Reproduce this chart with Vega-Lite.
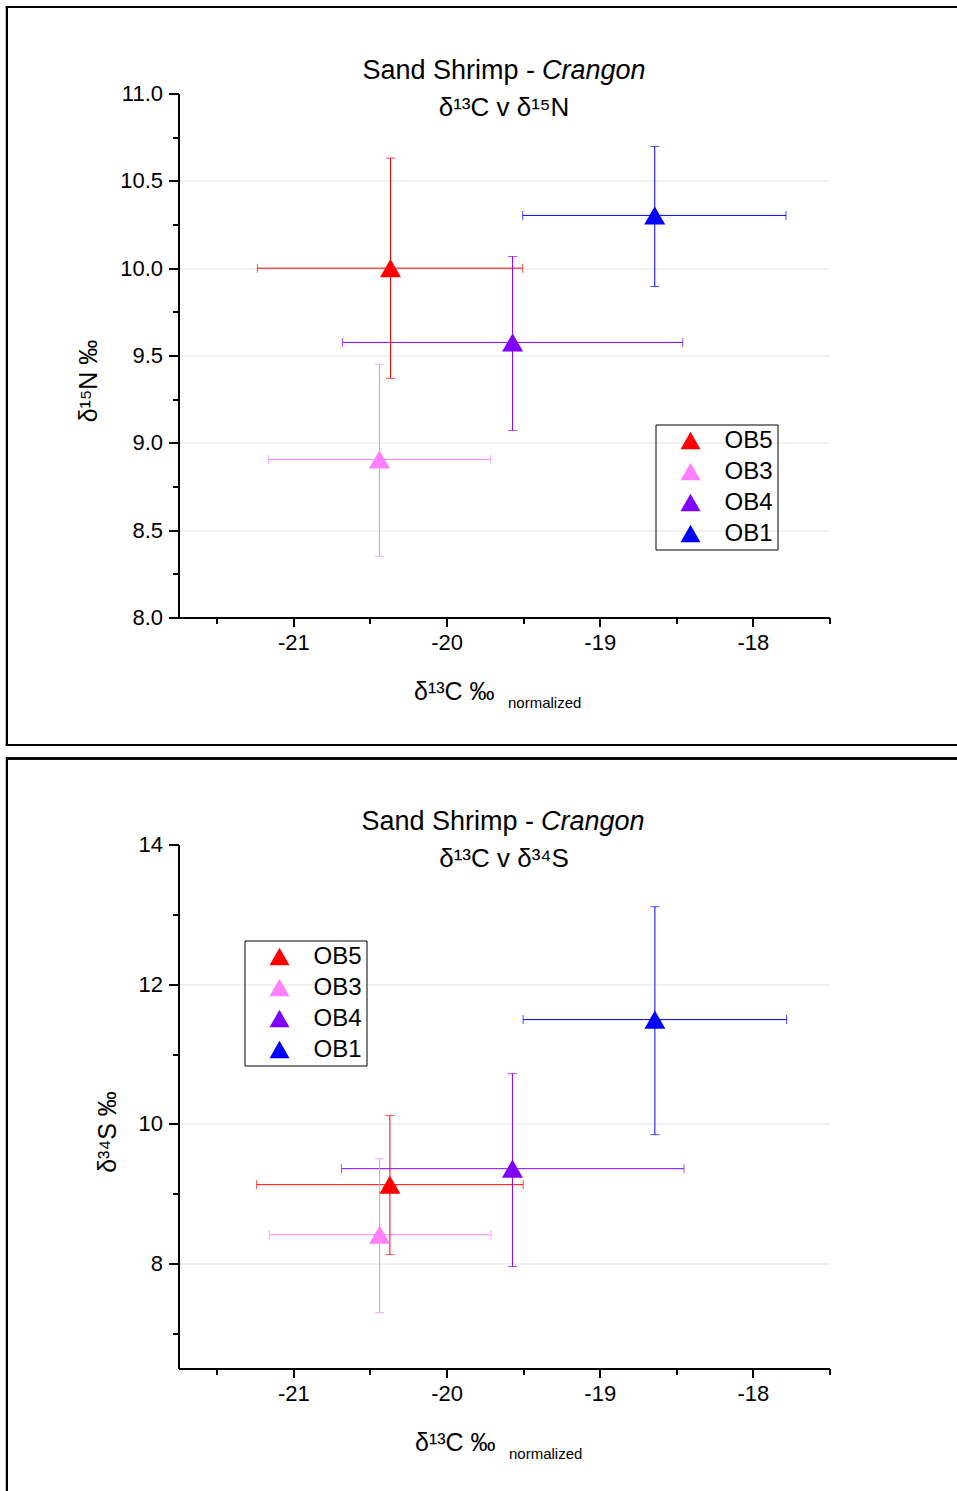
{
  "$schema": "https://vega.github.io/schema/vega-lite/v6.json",
  "padding": {"left": 5.5, "top": 5.5, "right": 0, "bottom": 0},
  "background": "white",
  "spacing": 10,
  "datasets": {
    "top": [
      {"site": "OB5", "x": -20.366, "y": 10.0, "xlo": -21.235, "xhi": -19.503, "ylo": 9.369, "yhi": 10.63},
      {"site": "OB3", "x": -20.438, "y": 8.905, "xlo": -21.163, "xhi": -19.712, "ylo": 8.35, "yhi": 9.449},
      {"site": "OB4", "x": -19.569, "y": 9.575, "xlo": -20.68, "xhi": -18.458, "ylo": 9.071, "yhi": 10.067},
      {"site": "OB1", "x": -18.641, "y": 10.302, "xlo": -19.503, "xhi": -17.784, "ylo": 9.895, "yhi": 10.697}
    ],
    "bottom": [
      {"site": "OB5", "x": -20.37, "y": 9.131, "xlo": -21.24, "xhi": -19.5, "ylo": 8.13, "yhi": 10.12},
      {"site": "OB3", "x": -20.437, "y": 8.415, "xlo": -21.157, "xhi": -19.71, "ylo": 7.3, "yhi": 9.503},
      {"site": "OB4", "x": -19.57, "y": 9.36, "xlo": -20.686, "xhi": -18.45, "ylo": 7.96, "yhi": 10.72},
      {"site": "OB1", "x": -18.64, "y": 11.494, "xlo": -19.5, "xhi": -17.78, "ylo": 9.847, "yhi": 13.11}
    ]
  },
  "vconcat": [
    {
      "width": 651,
      "height": 524,
      "data": {"name": "top"},
      "title": {"text": "δ¹³C v δ¹⁵N", "frame": "group", "offset": -115},
      "resolve": {"axis": {"x": "independent"}, "legend": {"color": "independent"}},
      "layer": [
        {
          "mark": {"type": "rule", "color": "black", "strokeWidth": 2, "strokeCap": "square"},
          "encoding": {
            "x": {"datum": -22.87, "type": "quantitative", "scale": {"domain": [-21.75, -17.5], "nice": false, "zero": false},
                  "axis": {"orient": "bottom", "domain": false, "ticks": false, "labels": false, "grid": false, "title": "normalized", "titleFontSize": 15, "titleAlign": "left", "titleBaseline": "alphabetic", "titleX": 329, "titleY": 90}},
            "x2": {"datum": -16.6708},
            "y": {"datum": 11.4952, "type": "quantitative", "title": "δ¹⁵N ‰"}
          }
        },
        {
          "mark": {"type": "rule", "color": "black", "strokeWidth": 2, "strokeCap": "square"},
          "encoding": {
            "x": {"datum": -22.87, "type": "quantitative",
                  "axis": {"orient": "top", "domain": false, "ticks": false, "labels": false, "grid": false, "title": "Sand Shrimp -", "titleFontSize": 27, "titleAlign": "right", "titleBaseline": "alphabetic", "titleX": 356, "titleY": -15}},
            "x2": {"datum": -16.6708},
            "y": {"datum": 7.27, "type": "quantitative", "title": "δ¹⁵N ‰"}
          }
        },
        {
          "mark": {"type": "rule", "color": "black", "strokeWidth": 2, "strokeCap": "square"},
          "encoding": {
            "x": {"datum": -22.87, "type": "quantitative",
                  "axis": {"orient": "top", "domain": false, "ticks": false, "labels": false, "grid": false, "title": "Crangon", "titleFontSize": 27, "titleFontStyle": "italic", "titleAlign": "left", "titleBaseline": "alphabetic", "titleX": 363, "titleY": -15}},
            "y": {"datum": 11.4952, "type": "quantitative", "title": "δ¹⁵N ‰"},
            "y2": {"datum": 7.27}
          }
        },
        {
          "mark": {"type": "errorbar", "ticks": {"size": 9}, "thickness": 1},
          "encoding": {
            "x": {"field": "xlo", "type": "quantitative", "axis": null},
            "x2": {"field": "xhi"},
            "y": {"field": "y", "type": "quantitative", "title": "δ¹⁵N ‰"},
            "color": {"field": "site", "type": "nominal", "legend": null}
          }
        },
        {
          "mark": {"type": "errorbar", "ticks": {"size": 9}, "thickness": 1},
          "encoding": {
            "y": {"field": "ylo", "type": "quantitative", "title": "δ¹⁵N ‰"},
            "y2": {"field": "yhi"},
            "x": {"field": "x", "type": "quantitative", "axis": null},
            "color": {"field": "site", "type": "nominal", "legend": null}
          }
        },
        {
          "mark": {"type": "point", "shape": "triangle-up", "filled": true, "opacity": 1, "size": 440},
          "encoding": {
            "x": {"field": "x", "type": "quantitative",
                  "axis": {"orient": "bottom", "title": "δ¹³C ‰", "titleAlign": "left", "titleBaseline": "alphabetic", "titleX": 235, "titleY": 82,
                           "values": [-21.5, -21, -20.5, -20, -19.5, -19, -18.5, -18, -17.5],
                           "labelExpr": "datum.value % 1 === 0 ? '' + datum.value : ''",
                           "tickSize": {"condition": {"test": "datum.value % 1 === 0", "value": 9}, "value": 6},
                           "gridOpacity": {"condition": {"test": "datum.value % 1 === 0", "value": 1}, "value": 0}}},
            "y": {"field": "y", "type": "quantitative", "title": "δ¹⁵N ‰",
                  "scale": {"domain": [8, 11], "nice": false, "zero": false},
                  "axis": {"titleY": 287,
                           "values": [8, 8.25, 8.5, 8.75, 9, 9.25, 9.5, 9.75, 10, 10.25, 10.5, 10.75, 11],
                           "labelExpr": "datum.value % 0.5 === 0 ? format(datum.value, '.1f') : ''",
                           "tickSize": {"condition": {"test": "datum.value % 0.5 === 0", "value": 10}, "value": 6},
                           "gridOpacity": {"condition": {"test": "datum.value % 0.5 === 0 && datum.value < 11", "value": 1}, "value": 0}}},
            "color": {"field": "site", "type": "nominal",
                      "scale": {"domain": ["OB5", "OB3", "OB4", "OB1"], "range": ["#ff0000", "#ff80ff", "#8000ff", "#0000ff"]},
                      "legend": {"orient": "none", "legendX": 477, "legendY": 331, "title": null}}
          }
        }
      ]
    },
    {
      "width": 651,
      "height": 524,
      "data": {"name": "bottom"},
      "title": {"text": "δ¹³C v δ³⁴S", "frame": "group", "offset": -115},
      "resolve": {"axis": {"x": "independent"}, "legend": {"color": "independent"}},
      "layer": [
        {
          "mark": {"type": "rule", "color": "black", "strokeWidth": 2, "strokeCap": "square"},
          "encoding": {
            "x": {"datum": -22.87, "type": "quantitative", "scale": {"domain": [-21.75, -17.5], "nice": false, "zero": false},
                  "axis": {"orient": "bottom", "domain": false, "ticks": false, "labels": false, "grid": false, "title": "normalized", "titleFontSize": 15, "titleAlign": "left", "titleBaseline": "alphabetic", "titleX": 330, "titleY": 90}},
            "x2": {"datum": -16.6708},
            "y": {"datum": 15.231, "type": "quantitative", "title": "δ³⁴S ‰"}
          }
        },
        {
          "mark": {"type": "rule", "color": "black", "strokeWidth": 2, "strokeCap": "square"},
          "encoding": {
            "x": {"datum": -22.87, "type": "quantitative",
                  "axis": {"orient": "top", "domain": false, "ticks": false, "labels": false, "grid": false, "title": "Sand Shrimp -", "titleFontSize": 27, "titleAlign": "right", "titleBaseline": "alphabetic", "titleX": 355, "titleY": -15}},
            "y": {"datum": 15.231, "type": "quantitative", "title": "δ³⁴S ‰"},
            "y2": {"datum": 4.7395}
          }
        },
        {
          "mark": {"type": "errorbar", "ticks": {"size": 9}, "thickness": 1},
          "encoding": {
            "x": {"field": "xlo", "type": "quantitative",
                  "axis": {"orient": "top", "domain": false, "ticks": false, "labels": false, "grid": false, "title": "Crangon", "titleFontSize": 27, "titleFontStyle": "italic", "titleAlign": "left", "titleBaseline": "alphabetic", "titleX": 362, "titleY": -15}},
            "x2": {"field": "xhi"},
            "y": {"field": "y", "type": "quantitative", "title": "δ³⁴S ‰"},
            "color": {"field": "site", "type": "nominal", "legend": null}
          }
        },
        {
          "mark": {"type": "errorbar", "ticks": {"size": 9}, "thickness": 1},
          "encoding": {
            "y": {"field": "ylo", "type": "quantitative", "title": "δ³⁴S ‰"},
            "y2": {"field": "yhi"},
            "x": {"field": "x", "type": "quantitative", "axis": null},
            "color": {"field": "site", "type": "nominal", "legend": null}
          }
        },
        {
          "mark": {"type": "point", "shape": "triangle-up", "filled": true, "opacity": 1, "size": 440},
          "encoding": {
            "x": {"field": "x", "type": "quantitative",
                  "axis": {"orient": "bottom", "title": "δ¹³C ‰", "titleAlign": "left", "titleBaseline": "alphabetic", "titleX": 236, "titleY": 82,
                           "values": [-21.5, -21, -20.5, -20, -19.5, -19, -18.5, -18, -17.5],
                           "labelExpr": "datum.value % 1 === 0 ? '' + datum.value : ''",
                           "tickSize": {"condition": {"test": "datum.value % 1 === 0", "value": 9}, "value": 6},
                           "gridOpacity": {"condition": {"test": "datum.value % 1 === 0", "value": 1}, "value": 0}}},
            "y": {"field": "y", "type": "quantitative", "title": "δ³⁴S ‰",
                  "scale": {"domain": [6.5, 14], "nice": false, "zero": false},
                  "axis": {"titleY": 287,
                           "values": [7, 8, 9, 10, 11, 12, 13, 14],
                           "labelExpr": "datum.value % 2 === 0 ? '' + datum.value : ''",
                           "tickSize": {"condition": {"test": "datum.value % 2 === 0", "value": 10}, "value": 6},
                           "gridOpacity": {"condition": {"test": "datum.value % 2 === 0 && datum.value < 14", "value": 1}, "value": 0}}},
            "color": {"field": "site", "type": "nominal",
                      "scale": {"domain": ["OB5", "OB3", "OB4", "OB1"], "range": ["#ff0000", "#ff80ff", "#8000ff", "#0000ff"]},
                      "legend": {"orient": "none", "legendX": 66, "legendY": 96, "title": null}}
          }
        }
      ]
    }
  ],
  "config": {
    "font": "Liberation Sans",
    "view": {"stroke": null},
    "title": {"font": "Liberation Sans", "fontSize": 26, "fontWeight": "normal", "color": "black", "anchor": "middle"},
    "axis": {
      "domainColor": "black", "domainWidth": 2, "tickColor": "black", "tickWidth": 2,
      "labelFont": "Liberation Sans", "labelFontSize": 22, "labelColor": "black", "labelPadding": 6,
      "titleFont": "Liberation Sans", "titleFontSize": 25, "titleFontWeight": "normal", "titleColor": "black",
      "gridColor": "#e2e2e2", "gridWidth": 1, "grid": true
    },
    "axisY": {"titlePadding": 18},
    "legend": {
      "labelFont": "Liberation Sans", "labelFontSize": 24, "labelColor": "black",
      "symbolType": "triangle-up", "symbolSize": 400, "symbolStrokeWidth": 0,
      "strokeColor": "black", "padding": 4, "symbolOffset": 19, "labelOffset": 22, "rowPadding": 7
    }
  }
}
